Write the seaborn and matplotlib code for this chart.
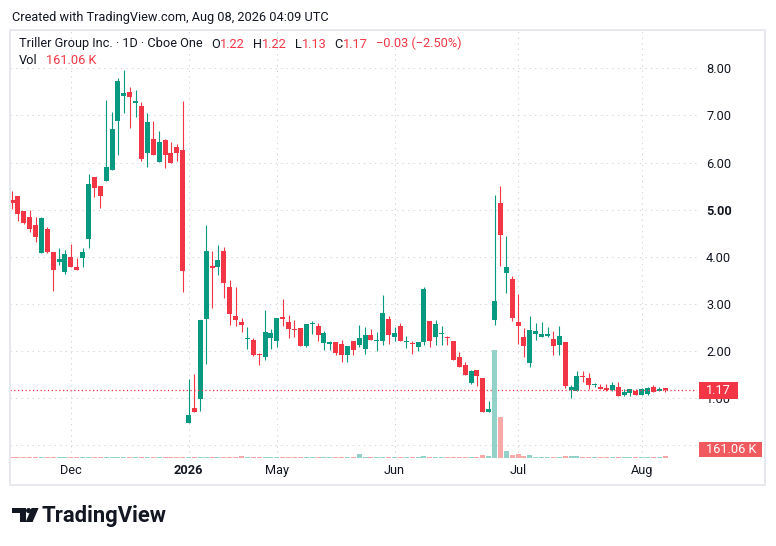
import matplotlib
matplotlib.use("Agg")
import matplotlib.pyplot as plt
import matplotlib.patches as mpatches
import matplotlib.transforms as mtransforms
import numpy as np
import pandas as pd
import seaborn as sns

W, H = 776, 546
UP = "#089981"
DOWN = "#F23645"
UP_VOL = "#92d2c9"
DOWN_VOL = "#f7a9a7"
TEXT = "#131722"
GRID = "#d3d6dc"
FS = 9.2

# daily OHLC, one entry per bar (left to right)
opens = [5.21, 5.29, 4.97, 4.85, 4.68, 4.09, 4.59, 4.10, 3.88, 3.68,
         4.00, 3.78, 3.98, 4.38, 5.69, 5.50, 5.60, 5.85, 6.89, 7.41,
         7.50, 7.27, 7.20, 6.21, 6.50, 6.02, 6.47, 6.20, 6.32, 6.27,
         0.48, 0.80, 0.98, 2.68, 3.80, 3.79, 4.12, 3.35, 2.74, 2.61,
         2.26, 2.23, 1.93, 1.88, 2.28, 2.22, 2.72, 2.61, 2.47, 2.49,
         2.11, 2.58, 2.53, 2.17, 2.16, 2.19, 2.15, 1.92, 2.21, 2.13,
         2.05, 2.34, 2.22, 2.22, 2.68, 2.30, 2.53, 2.20, 2.17, 2.09,
         2.20, 2.64, 2.31, 2.37, 2.28, 2.21, 1.87, 1.70, 1.33, 1.60,
         1.42, 0.71, 2.67, 5.14, 3.66, 3.53, 2.62, 2.30, 1.75, 2.37,
         2.31, 2.33, 2.26, 2.14, 2.19, 1.18, 1.16, 1.46, 1.43, 1.28,
         1.24, 1.22, 1.18, 1.24, 1.07, 1.12, 1.15, 1.08, 1.10, 1.24,
         1.16, 1.22]
highs = [5.40, 5.29, 4.97, 4.99, 4.85, 4.85, 4.64, 4.10, 4.18, 4.15,
         4.28, 3.97, 4.18, 5.76, 5.69, 5.50, 7.33, 7.07, 7.79, 7.96,
         7.61, 7.54, 7.28, 7.05, 6.88, 6.67, 6.50, 6.44, 6.39, 7.31,
         1.40, 1.51, 2.65, 4.67, 4.12, 4.25, 4.21, 3.50, 3.35, 2.70,
         2.51, 2.27, 1.97, 2.87, 2.46, 2.70, 3.10, 2.76, 2.65, 2.49,
         2.57, 2.63, 2.59, 2.42, 2.21, 2.19, 2.23, 2.10, 2.21, 2.55,
         2.51, 2.46, 2.40, 3.20, 2.74, 2.51, 2.59, 2.32, 2.22, 2.20,
         3.35, 2.64, 2.66, 2.53, 2.32, 2.21, 1.98, 1.77, 1.60, 1.60,
         1.44, 0.94, 5.31, 5.50, 4.44, 3.59, 3.21, 2.49, 2.74, 2.60,
         2.62, 2.51, 2.43, 2.53, 2.19, 1.28, 1.58, 1.58, 1.53, 1.33,
         1.30, 1.30, 1.34, 1.34, 1.20, 1.19, 1.19, 1.21, 1.24, 1.28,
         1.24, 1.22]
lows = [5.02, 4.77, 4.69, 4.53, 4.32, 4.08, 4.09, 3.28, 3.83, 3.64,
        3.79, 3.72, 3.79, 4.18, 5.26, 5.04, 5.60, 5.85, 6.15, 7.05,
        6.74, 6.96, 6.04, 5.91, 6.15, 6.02, 5.89, 5.98, 6.04, 3.26,
        0.48, 0.71, 0.73, 1.72, 2.91, 3.61, 3.12, 2.55, 2.53, 2.41,
        2.04, 1.90, 1.71, 1.81, 2.04, 2.09, 2.53, 2.28, 2.31, 2.11,
        2.09, 2.36, 2.22, 2.03, 2.03, 1.92, 1.77, 1.77, 1.92, 2.09,
        1.94, 2.24, 2.00, 2.13, 2.15, 2.21, 2.22, 2.07, 1.94, 2.00,
        2.14, 2.09, 2.14, 2.14, 2.14, 1.82, 1.67, 1.50, 1.31, 1.27,
        0.71, 0.71, 2.56, 3.81, 3.23, 2.64, 2.16, 1.88, 1.67, 2.24,
        2.31, 2.31, 1.92, 1.92, 1.22, 1.01, 1.16, 1.35, 1.20, 1.24,
        1.20, 1.16, 1.16, 1.05, 1.05, 1.05, 1.07, 1.08, 1.08, 1.14,
        1.15, 1.13]
closes = [5.15, 4.90, 4.71, 4.60, 4.41, 4.82, 4.10, 3.72, 3.95, 4.06,
          3.79, 3.72, 4.10, 5.55, 5.45, 5.30, 5.90, 6.71, 7.73, 7.48,
          7.38, 7.28, 6.08, 6.85, 6.15, 6.44, 6.15, 5.98, 6.21, 3.69,
          0.64, 0.71, 2.65, 4.12, 3.77, 3.93, 3.44, 2.78, 2.66, 2.56,
          2.28, 1.92, 1.91, 2.40, 2.38, 2.70, 2.68, 2.46, 2.45, 2.11,
          2.57, 2.59, 2.34, 2.38, 2.17, 1.96, 1.92, 2.10, 2.03, 2.27,
          2.34, 2.24, 2.23, 2.80, 2.34, 2.38, 2.22, 2.21, 2.15, 2.20,
          3.32, 2.22, 2.57, 2.38, 2.27, 1.82, 1.67, 1.50, 1.58, 1.48,
          0.71, 0.77, 3.06, 4.47, 3.78, 2.71, 2.54, 2.11, 2.45, 2.43,
          2.36, 2.34, 2.11, 2.32, 1.26, 1.24, 1.47, 1.45, 1.29, 1.29,
          1.20, 1.18, 1.28, 1.05, 1.13, 1.19, 1.08, 1.19, 1.22, 1.14,
          1.20, 1.17]
# volume in thousands of shares
volumes_k = [130, 120, 110, 115, 125, 140, 120, 135, 110, 105,
             100, 95, 105, 150, 120, 110, 140, 135, 150, 130,
             120, 105, 115, 120, 100, 95, 110, 100, 90, 160,
             150, 120, 140, 160, 130, 110, 120, 140, 125, 240,
             120, 115, 110, 130, 110, 120, 125, 110, 105, 115,
             110, 100, 105, 110, 95, 105, 115, 110, 105, 440,
             130, 110, 105, 150, 120, 110, 115, 105, 110, 100,
             230, 120, 110, 105, 100, 130, 125, 120, 140, 150,
             330, 230, 11550, 4400, 750, 330, 430, 220, 330, 150,
             130, 120, 140, 150, 230, 220, 230, 150, 140, 120,
             110, 115, 120, 130, 110, 120, 115, 110, 125, 120,
             115, 161.06]

tick_bars = [10, 30, 45, 65, 86, 107]
tick_labels = ["Dec", "2026", "May", "Jun", "Jul", "Aug"]
price_ticks = [0, 1, 2, 3, 4, 5, 6, 7, 8]

df = pd.DataFrame({"open": opens, "high": highs, "low": lows,
                   "close": closes, "volume": volumes_k})
df["bar"] = np.arange(len(df))
df["dir"] = np.where(df["close"] >= df["open"], "up", "down")

sns.set_theme(style="white")
plt.rcParams["font.family"] = ["Roboto", "DejaVu Sans"]

fig = plt.figure(figsize=(W / 100, H / 100), dpi=100)
rect = [10 / W, 1 - 458 / H, 687 / W, 428 / H]
ax = fig.add_axes(rect, zorder=1)
ax_vol = fig.add_axes(rect, zorder=2)
ax_vol.patch.set_alpha(0)

xlim = (-0.34, 116.4)

# price pane
ax.set_xlim(*xlim)
ax.set_ylim(-0.266, 8.81)
for s in ax.spines.values():
    s.set_visible(False)
ax.grid(True, color=GRID, linestyle=(0, (1.3, 4)), linewidth=0.75)
ax.set_axisbelow(True)
ax.yaxis.tick_right()
ax.set_yticks(price_ticks)
ax.set_yticklabels(["" if v == 0 else "%.2f" % v for v in price_ticks])
ax.set_xticks(tick_bars)
ax.set_xticklabels(tick_labels)
ax.tick_params(axis="y", length=0, pad=6.5, labelsize=FS, labelcolor=TEXT)
ax.tick_params(axis="x", length=0, pad=4.5, labelsize=FS, labelcolor=TEXT)
for lab in ax.get_yticklabels():
    if lab.get_text() == "5.00":
        lab.set_fontweight("bold")
for lab in ax.get_xticklabels():
    if lab.get_text() == "2026":
        lab.set_fontweight("bold")

colors = np.where(df["dir"] == "up", UP, DOWN)
ax.vlines(df["bar"], df["low"], df["high"], colors=colors, linewidth=0.8)
body_lo = df[["open", "close"]].min(axis=1)
body_h = (df["close"] - df["open"]).abs().clip(lower=0.025)
ax.bar(df["bar"], body_h, bottom=body_lo, width=0.85, color=colors, linewidth=0)

ax.axhline(df["close"].iloc[-1], color=DOWN, linestyle=(0, (1, 2)), linewidth=0.9)

# volume pane overlay
sns.barplot(data=df, x="bar", y="volume", hue="dir",
            palette={"up": UP_VOL, "down": DOWN_VOL}, native_scale=True,
            dodge=False, width=0.85, saturation=1, errorbar=None,
            legend=False, linewidth=0, ax=ax_vol)
ax_vol.set_xlim(*xlim)
ax_vol.set_ylim(0, df["volume"].max() * 428 / 108)
ax_vol.axis("off")


def fx(x):
    return x / W


def fy(y):
    return 1 - y / H


# header and legend texts
fig.text(fx(12), fy(17), "Created with TradingView.com, Aug 08, 2026 04:09 UTC",
         fontsize=FS, color=TEXT, va="center")

last = df.iloc[-1]
prev_close = df["close"].iloc[-2]
chg = last["close"] - prev_close
pct = chg / prev_close * 100
pieces = [("O", TEXT, 9), ("%.2f" % last["open"], DOWN, 0),
          ("H", TEXT, 8), ("%.2f" % last["high"], DOWN, 0),
          ("L", TEXT, 8), ("%.2f" % last["low"], DOWN, 0),
          ("C", TEXT, 8), ("%.2f" % last["close"], DOWN, 0),
          ("\u2212%.2f (\u2212%.2f%%)" % (abs(chg), abs(pct)), DOWN, 9)]
prev = fig.text(fx(19), fy(44), "Triller Group Inc. · 1D · Cboe One",
                fontsize=FS, color=TEXT, va="center")
for txt, col, gap in pieces:
    prev = ax.annotate(txt, xy=(1, 0), xycoords=prev, xytext=(gap, 0),
                       textcoords="offset pixels", fontsize=FS, color=col,
                       va="bottom", ha="left", annotation_clip=False)
vol_lab = fig.text(fx(19), fy(61), "Vol", fontsize=FS, color=TEXT, va="center")
ax.annotate("%.2f K" % last["volume"], xy=(1, 0), xycoords=vol_lab, xytext=(8, 0),
            textcoords="offset pixels", fontsize=FS, color=DOWN, va="bottom",
            annotation_clip=False)

# last price / last volume boxes on the price scale
ident = mtransforms.IdentityTransform()
fig.canvas.draw()
ypx = ax.transData.transform((0, last["close"]))[1]
fig.add_artist(mpatches.Rectangle((699, ypx - 8.3), 39, 16.6, transform=ident,
                                  facecolor=DOWN, edgecolor="none", zorder=5))
fig.text(706, ypx, "%.2f" % last["close"], transform=ident, color="white",
         fontsize=FS, va="center", zorder=6)
fig.add_artist(mpatches.Rectangle((699, H - 457.3), 63, 15.6, transform=ident,
                                  facecolor="#f05a5e", edgecolor="none", zorder=5))
fig.text(706, H - 449.5, "%.2f K" % last["volume"], transform=ident, color="white",
         fontsize=FS, va="center", zorder=6)

# chart frame
fig.add_artist(mpatches.Rectangle((fx(10), fy(485)), fx(765) - fx(10), fy(30) - fy(485),
                                  transform=fig.transFigure, fill=False,
                                  edgecolor="#e6e8ed", linewidth=1.4, zorder=4))

# TradingView watermark
logo = [
    [(12.3, 508), (25.7, 508), (25.7, 522), (19.7, 522), (19.7, 513.2), (12.3, 513.2)],
    mpatches.Circle((28.6, 510.6), 2.6).get_verts(),
    [(31.6, 508), (38.6, 508), (32.6, 522), (25.6, 522)],
]
for verts in logo:
    verts = np.array(verts, dtype=float)
    verts[:, 1] = H - verts[:, 1]
    fig.add_artist(mpatches.Polygon(verts, closed=True, transform=ident,
                                    facecolor=TEXT, edgecolor="none", zorder=5))
fig.text(fx(41.5), fy(522), "TradingView", fontsize=15.8, fontweight="bold",
         color=TEXT, va="baseline")

fig.savefig("out.png", dpi=100, facecolor="white")
